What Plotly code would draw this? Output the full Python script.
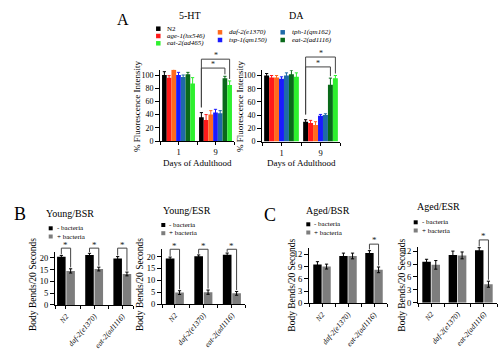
import plotly.graph_objects as go

W, H = 500, 352
SERIF = "Liberation Serif, 'Times New Roman', serif"

# ---------------- Panel A data ----------------
days = ["1", "9"]
strains = ["N2", "age-1(hx546)", "daf-2(e1370)", "tsp-1(qm150)",
           "tph-1(qm162)", "eat-2(ad1116)", "eat-2(ad465)"]
strain_colors = ["#000000", "#ff1a1a", "#ff6a1f", "#1a1aff",
                 "#1f6aa8", "#0a6a1a", "#2ef02e"]
ht_day1 = [100, 96, 108, 100, 97, 101, 87]
ht_day9 = [36, 32, 40, 43, 42, 95, 85]
ht_err1 = [5, 3, 5, 4, 3, 3, 9]
ht_err9 = [7, 8, 6, 5, 4, 3, 6]
da_day1 = [100, 97, 97, 95, 100, 102, 98]
da_day9 = [30, 28, 25, 39, 40, 86, 96]
da_err1 = [3, 3, 3, 3, 4, 6, 6]
da_err9 = [3, 4, 5, 2, 2, 10, 4]
pct_ticks = [0, 20, 40, 60, 80, 100]

# ---------------- Panels B/C data ----------------
genotypes = ["N2", "daf-2(e1370)", "eat-2(ad1116)"]
conditions = ["- bacteria", "+ bacteria"]
cond_colors = ["#000000", "#7d7d7d"]

young_bsr_minus = [20.5, 21.3, 19.8]
young_bsr_minus_err = [0.6, 0.7, 0.8]
young_bsr_plus = [14.5, 15.3, 13.2]
young_bsr_plus_err = [0.9, 0.8, 0.8]

young_esr_minus = [19.2, 20.2, 20.8]
young_esr_minus_err = [0.6, 0.5, 0.7]
young_esr_plus = [4.8, 5.0, 4.5]
young_esr_plus_err = [0.8, 0.9, 0.8]

aged_bsr_minus = [9.5, 11.6, 12.3]
aged_bsr_minus_err = [0.7, 0.7, 0.6]
aged_bsr_plus = [9.0, 11.6, 8.2]
aged_bsr_plus_err = [0.6, 0.7, 0.7]

aged_esr_minus = [9.5, 11.1, 12.2]
aged_esr_minus_err = [0.6, 0.9, 0.6]
aged_esr_plus = [8.8, 11.0, 4.3]
aged_esr_plus_err = [1.0, 0.8, 0.7]

young_ticks = [0, 5, 10, 15, 20]
aged_ticks = [0, 3, 6, 9, 12]
young_sig = [0, 1, 2]
aged_sig = [2]

# ---------------- helpers ----------------
fig = go.Figure()
layout = dict(width=W, height=H, margin=dict(l=0, r=0, t=0, b=0, autoexpand=False),
              paper_bgcolor="white", plot_bgcolor="white",
              barmode="overlay", showlegend=False,
              font=dict(family=SERIF, color="black", size=9))
shapes, annots = [], []


def ax_names(k):
    return ("xaxis" if k == 1 else f"xaxis{k}", "yaxis" if k == 1 else f"yaxis{k}",
            "x" if k == 1 else f"x{k}", "y" if k == 1 else f"y{k}")


def setup_axes(k, x0, x1, yzero, ppu, xrange, yrange, yticks, ncat,
               ticktext, tickangle, xfont, yfont):
    xa, ya, xr, yr = ax_names(k)
    ytop = yzero - (yrange[1] - yrange[0]) * ppu
    tv, tt = [], []
    for i in range(ncat):
        tv += [i - 0.5, i]
        tt += ["", ticktext[i]]
    tv.append(ncat - 0.5)
    tt.append("")
    tv = [v if v >= xrange[0] else xrange[0] for v in tv]
    tv = [v if v <= xrange[1] else xrange[1] for v in tv]
    layout[xa] = dict(domain=[x0 / W, x1 / W], range=xrange, anchor=yr,
                      automargin=False,
                      showline=True, linecolor="black", linewidth=1,
                      ticks="outside", ticklen=3, tickwidth=1, tickcolor="black",
                      tickmode="array", tickvals=tv, ticktext=tt,
                      tickangle=tickangle, tickfont=xfont,
                      showgrid=False, zeroline=False, fixedrange=True)
    layout[ya] = dict(domain=[1 - yzero / H, 1 - ytop / H], range=yrange, anchor=xr,
                      automargin=False,
                      showline=True, linecolor="black", linewidth=1,
                      ticks="outside", ticklen=4, tickwidth=1, tickcolor="black",
                      tickmode="array", tickvals=yticks,
                      tickfont=yfont, showgrid=False, zeroline=False, fixedrange=True)


def bar_center(i, j, n, gap):
    slot = (1 - gap) / n
    return i - (1 - gap) / 2 + (j + 0.5) * slot


def add_bars(k, series, errs, colors, names, gap, groupgap, err_color, cap):
    _, _, xr, yr = ax_names(k)
    n = len(series)
    slot = (1 - gap) / n
    for j in range(n):
        fig.add_trace(go.Bar(
            x=list(range(len(series[j]))), y=series[j], name=names[j],
            xaxis=xr, yaxis=yr, cliponaxis=False,
            width=slot * (1 - groupgap),
            offset=-(1 - gap) / 2 + j * slot + slot * groupgap / 2,
            marker=dict(color=colors[j], line=dict(width=0)),
            error_y=dict(type="data", array=errs[j], visible=True,
                         color=err_color if err_color else colors[j],
                         thickness=1, width=cap)))


def bracket(k, xl, xr_, ytop, ybl, ybr, ymax, star_y, color="#444444", star_size=9):
    _, _, xr, yr = ax_names(k)
    yd = f"{yr} domain"
    for (a, b, c, d) in [(xl, ybl, xl, ytop), (xl, ytop, xr_, ytop), (xr_, ytop, xr_, ybr)]:
        shapes.append(dict(type="line", xref=xr, yref=yd, x0=a, y0=b / ymax,
                           x1=c, y1=d / ymax, line=dict(color=color, width=1)))
    annots.append(dict(text="*", xref=xr, yref=yd, x=(xl + xr_) / 2, y=star_y / ymax,
                       showarrow=False, font=dict(size=star_size, family=SERIF, color="#222"),
                       xanchor="center", yanchor="middle"))


def text(x, y, s, size, italic=False, xanchor="center", angle=0):
    annots.append(dict(text=(f"<i>{s}</i>" if italic else s), x=x / W, y=1 - y / H,
                       xref="paper", yref="paper", showarrow=False, textangle=angle,
                       font=dict(size=size, family=SERIF, color="black"),
                       xanchor=xanchor, yanchor="middle"))


def square(x, y, size, color):
    shapes.append(dict(type="rect", xref="paper", yref="paper",
                       x0=(x - size / 2) / W, x1=(x + size / 2) / W,
                       y0=1 - (y + size / 2) / H, y1=1 - (y - size / 2) / H,
                       fillcolor=color, line=dict(width=0)))


# ---------------- Panel A ----------------
A_GAP = 0.11
A_PPU = 0.66
A_MAX = 108
tf_small = dict(size=8, family=SERIF, color="black")
tf_x = dict(size=8.5, family=SERIF, color="black")

panelA = [
    (1, 160, 234, 141.0, [ht_day1, ht_day9], [ht_err1, ht_err9], "5-HT", 190, 137,
     (124, 129, 110.5, 115.5)),
    (2, 262, 340, 141.5, [da_day1, da_day9], [da_err1, da_err9], "DA", 296, 240,
     (128, 133, 113, 118)),
]
for (k, x0, x1, yz, dvals, derrs, title, tx, ytx, br) in panelA:
    setup_axes(k, x0, x1, yz, A_PPU, [-0.5, 1.5], [0, A_MAX], pct_ticks, len(days),
               days, 0, tf_x, tf_small)
    series = [[dvals[d][s] for d in range(len(days))] for s in range(len(strains))]
    errs = [[derrs[d][s] for d in range(len(days))] for s in range(len(strains))]
    add_bars(k, series, errs, strain_colors, strains, A_GAP, 0.0, None, 1.6)
    text(tx, 16, title, 10)
    text(ytx, 107, "% Fluorescence Intensity", 9, angle=-90)
    text((x0 + x1) / 2, 163, "Days of Adulthood", 9)
    n = len(strains)
    d9 = days.index("9")
    xl = bar_center(d9, 0, n, A_GAP)
    left_bottom = dvals[d9][0] + derrs[d9][0] + 8
    top_y, top_star, low_y, low_star = br
    j_bright = strains.index("eat-2(ad465)")
    j_dark = strains.index("eat-2(ad1116)")
    bracket(k, xl, bar_center(d9, j_bright, n, A_GAP), top_y, left_bottom,
            dvals[d9][j_bright] + derrs[d9][j_bright] + 3, A_MAX, top_star, star_size=8)
    bracket(k, xl, bar_center(d9, j_dark, n, A_GAP), low_y, left_bottom,
            dvals[d9][j_dark] + derrs[d9][j_dark] + 3, A_MAX, low_star, star_size=8)

text(123, 20, "A", 16)
# Panel A legend
leg_cols = [158.3, 220.0, 282.7]
leg_slots = [(0, 28.7), (0, 36.0), (1, 32.3), (1, 40.0), (2, 32.3), (2, 40.0), (0, 43.3)]
for s, name in enumerate(strains):
    c, yy = leg_slots[s]
    square(leg_cols[c], yy, 4.5, strain_colors[s])
    text(leg_cols[c] + 7, yy, name, 7, italic=(name != "N2"), xanchor="left")

# ---------------- Panels B / C ----------------
tf_rot = dict(size=7.5, family=SERIF, color="black")
tf_y = dict(size=8.5, family=SERIF, color="black")
bc_panels = [
    (3, 55, 133, 305.0, 2.35, [-0.39, 2.38], 22.5, young_ticks,
     young_bsr_minus, young_bsr_minus_err, young_bsr_plus, young_bsr_plus_err,
     "Young/BSR", (70, 213), (50.7, 228.3), 33, 0.34, young_sig, 24.2, 25.6),
    (4, 162, 245, 304.0, 2.37, [-0.45, 2.46], 23.0, young_ticks,
     young_esr_minus, young_esr_minus_err, young_esr_plus, young_esr_plus_err,
     "Young/ESR", (187, 210.5), (163.3, 225.0), 140, 0.34, young_sig, 23.1, 24.6),
    (5, 309, 387, 303.3, 4.08, [-0.5, 2.5], 13.5, aged_ticks,
     aged_bsr_minus, aged_bsr_minus_err, aged_bsr_plus, aged_bsr_plus_err,
     "Aged/BSR", (328, 210), (308.3, 224.3), 291.7, 0.3, aged_sig, 14.5, 15.4),
    (6, 418, 497, 302.7, 4.3, [-0.5, 2.5], 13.0, aged_ticks,
     aged_esr_minus, aged_esr_minus_err, aged_esr_plus, aged_esr_plus_err,
     "Aged/ESR", (438, 207), (415.7, 222.3), 401.7, 0.3, aged_sig, 14.6, 15.4),
]
for (k, x0, x1, yz, ppu, xrng, ymax, yt, mv, me, pv, pe, title, tpos, lpos, ytx,
     gap, sig, by, sy) in bc_panels:
    setup_axes(k, x0, x1, yz, ppu, xrng, [0, ymax], yt, len(genotypes),
               [f"<i>{g}</i>" for g in genotypes], -50, tf_rot, tf_y)
    add_bars(k, [mv, pv], [me, pe], cond_colors, conditions, gap, 0.08, "#000000", 1.6)
    text(tpos[0], tpos[1], title, 10)
    text(ytx, 285, "Body Bends/20 Seconds", 9.5, angle=-90)
    for j, cname in enumerate(conditions):
        yy = lpos[1] + j * 8.2
        square(lpos[0], yy, 4, cond_colors[j])
        text(lpos[0] + 4, yy, cname, 7, xanchor="left")
    unit = ymax / 22.5
    for i in sig:
        bracket(k, bar_center(i, 0, 2, gap), bar_center(i, 1, 2, gap), by,
                mv[i] + me[i] + 0.5 * unit, pv[i] + pe[i] + 0.6 * unit,
                ymax, sy, star_size=9)

text(20, 214, "B", 18)
text(270, 215, "C", 18)

layout["shapes"] = shapes
layout["annotations"] = annots
fig.update_layout(**layout)
fig.write_html("out.html")
